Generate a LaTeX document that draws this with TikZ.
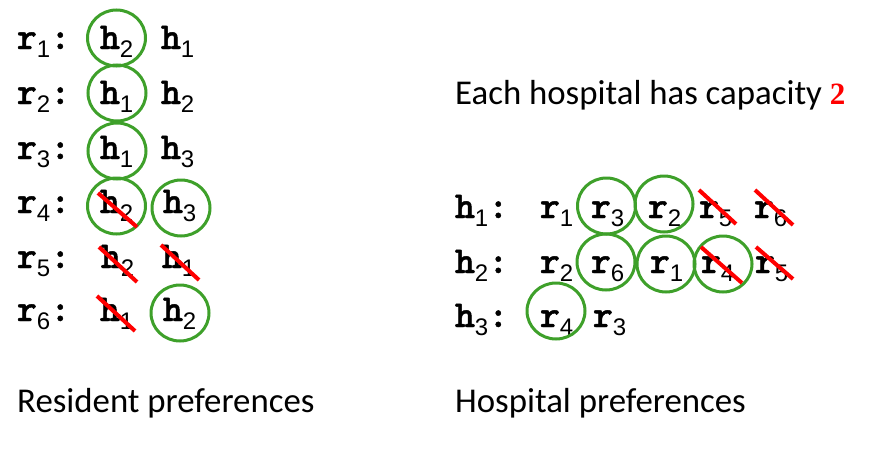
\documentclass[tikz,border=0pt]{standalone}
\usepackage{fontspec}
\setmainfont{Carlito}
\newfontfamily\subfam{Liberation Sans}
\newfontfamily\serifam{Liberation Serif}
\newfontfamily\mymono{lmmonolt10-bold.otf}[FakeBold=1.2]
\usetikzlibrary{shapes.geometric}
\definecolor{ringgreen}{RGB}{62,160,42}
\newcommand{\mbf}{\mymono\fontsize{38}{44}\selectfont}
\newcommand{\tk}[2]{{\mbf #1}\raisebox{-8pt}{\subfam\fontsize{24}{28}\selectfont #2}}
\newcommand{\lbl}[2]{\tk{#1}{#2}{\mbf :}}
\tikzset{
  tok/.style={anchor=base west, inner sep=0pt, outer sep=0pt},
  ring/.style={draw=ringgreen, line width=3pt, ellipse, minimum width=58pt, minimum height=56pt, inner sep=0pt},
  strike/.style={draw=red, line width=4pt},
  caption/.style={anchor=base west, inner sep=0pt, font=\fontsize{34.8}{40}\selectfont}
}
\begin{document}
\begin{tikzpicture}[x=1pt,y=-1pt]
\useasboundingbox (0,0) rectangle (877,460);
% ---------- Resident preferences ----------
\node[tok] (R1) at (17,49) {\lbl{r}{1}};
\node[tok] (R1a) at (100,49) {\tk{h}{2}};
\node[tok] (R1b) at (161,49) {\tk{h}{1}};
\node[tok] (R2) at (17,104) {\lbl{r}{2}};
\node[tok] (R2a) at (100,104) {\tk{h}{1}};
\node[tok] (R2b) at (161,104) {\tk{h}{2}};
\node[tok] (R3) at (17,159) {\lbl{r}{3}};
\node[tok] (R3a) at (100,159) {\tk{h}{1}};
\node[tok] (R3b) at (161,159) {\tk{h}{3}};
\node[tok] (R4) at (17,213) {\lbl{r}{4}};
\node[tok] (R4a) at (100,213) {\tk{h}{2}};
\node[tok] (R4b) at (163,213) {\tk{h}{3}};
\node[tok] (R5) at (17,268) {\lbl{r}{5}};
\node[tok] (R5a) at (101,268) {\tk{h}{2}};
\node[tok] (R5b) at (162,268) {\tk{h}{1}};
\node[tok] (R6) at (17,321) {\lbl{r}{6}};
\node[tok] (R6a) at (100,321) {\tk{h}{1}};
\node[tok] (R6b) at (163,321) {\tk{h}{2}};
% rings
\node[ring] (cR1) at (116.5,38) {};
\node[ring] (cR2) at (117,93) {};
\node[ring] (cR3) at (117,151) {};
\node[ring] (cR4a) at (116.5,206) {};
\node[ring] (cR4b) at (181,208) {};
\node[ring] (cR6b) at (180,313) {};
% strikes
\draw[strike] (98,193) -- (137,227);
\draw[strike] (99,247) -- (137,282);
\draw[strike] (161,245) -- (199,280);
\draw[strike] (97,296) -- (135,331);
% ---------- Hospital preferences ----------
\node[caption] (cap) at (455,104) {Each hospital has capacity \textcolor{red}{\serifam\bfseries\fontsize{31}{36}\selectfont 2}};
\node[tok] (H1) at (455,218) {\lbl{h}{1}};
\node[tok] (H1a) at (540,218) {\tk{r}{1}};
\node[tok] (H1b) at (591,218) {\tk{r}{3}};
\node[tok] (H1c) at (648,218) {\tk{r}{2}};
\node[tok] (H1d) at (699,218) {\tk{r}{5}};
\node[tok] (H1e) at (754,218) {\tk{r}{6}};
\node[tok] (H2) at (455,273) {\lbl{h}{2}};
\node[tok] (H2a) at (540,273) {\tk{r}{2}};
\node[tok] (H2b) at (591,273) {\tk{r}{6}};
\node[tok] (H2c) at (650,273) {\tk{r}{1}};
\node[tok] (H2d) at (701,273) {\tk{r}{4}};
\node[tok] (H2e) at (755,273) {\tk{r}{5}};
\node[tok] (H3) at (455,327) {\lbl{h}{3}};
\node[tok] (H3a) at (540,327) {\tk{r}{4}};
\node[tok] (H3b) at (593,327) {\tk{r}{3}};
% rings
\node[ring] (cH1b) at (606.5,206) {};
\node[ring] (cH1c) at (664,204) {};
\node[ring] (cH2b) at (606,262) {};
\node[ring] (cH2c) at (666,264) {};
\node[ring] (cH2d) at (723,264) {};
\node[ring] (cH3a) at (556,311) {};
% strikes
\draw[strike] (699,190) -- (736,224);
\draw[strike] (755,190) -- (793,225);
\draw[strike] (701,247) -- (742,283);
\draw[strike] (756,247) -- (793,279);
% ---------- captions ----------
\node[caption] (capR) at (17,412) {Resident preferences};
\node[caption] (capH) at (455,412) {Hospital preferences};
\end{tikzpicture}
\end{document}
